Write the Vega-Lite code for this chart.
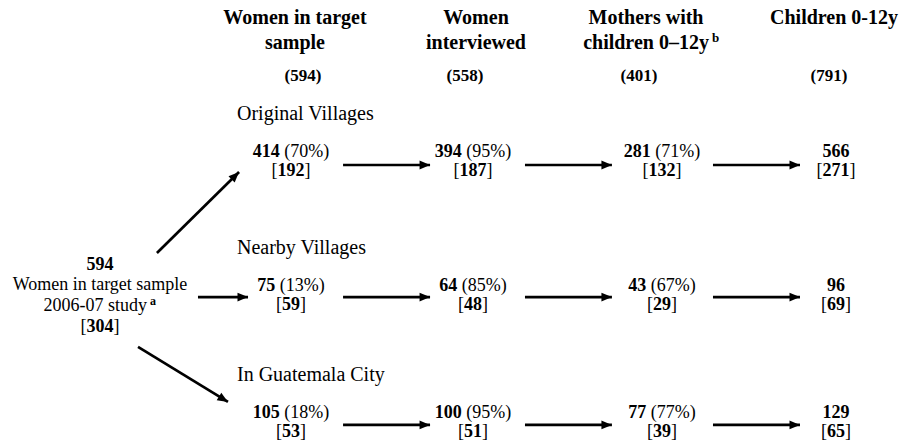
{
  "$schema": "https://vega.github.io/schema/vega-lite/v6.json",
  "width": 904,
  "height": 443,
  "autosize": {"type": "fit", "contains": "padding"},
  "padding": 0,
  "background": "white",
  "config": {
    "view": {"stroke": null},
    "axis": {"disable": true},
    "text": {"font": "Liberation Serif", "color": "black", "baseline": "middle"}
  },
  "datasets": {
    "nodes": [
      {"col": 1, "row": 1, "n": 414, "pct": 70, "sub": 192},
      {"col": 2, "row": 1, "n": 394, "pct": 95, "sub": 187},
      {"col": 3, "row": 1, "n": 281, "pct": 71, "sub": 132},
      {"col": 4, "row": 1, "n": 566, "pct": null, "sub": 271},
      {"col": 1, "row": 2, "n": 75, "pct": 13, "sub": 59},
      {"col": 2, "row": 2, "n": 64, "pct": 85, "sub": 48},
      {"col": 3, "row": 2, "n": 43, "pct": 67, "sub": 29},
      {"col": 4, "row": 2, "n": 96, "pct": null, "sub": 69},
      {"col": 1, "row": 3, "n": 105, "pct": 18, "sub": 53},
      {"col": 2, "row": 3, "n": 100, "pct": 95, "sub": 51},
      {"col": 3, "row": 3, "n": 77, "pct": 77, "sub": 39},
      {"col": 4, "row": 3, "n": 129, "pct": null, "sub": 65}
    ],
    "origin": [
      {"col": 0, "row": 2, "n": 594, "sub": 304, "desc": "Women in target sample", "study": "2006-07 study", "note": "a"}
    ],
    "groups": [
      {"col": 1, "row": 1, "label": "Original Villages"},
      {"col": 1, "row": 2, "label": "Nearby Villages"},
      {"col": 1, "row": 3, "label": "In Guatemala City"}
    ],
    "arrows": [
      {"kind": "up", "x1": 0.298, "y1": 1.754, "x2": 0.728, "y2": 1.149},
      {"kind": "h", "x1": 0.513, "y1": 2.087, "x2": 0.775, "y2": 2.087},
      {"kind": "down", "x1": 0.199, "y1": 2.48, "x2": 0.67, "y2": 2.913},
      {"kind": "h", "x1": 1.286, "y1": 1.097, "x2": 1.764, "y2": 1.097},
      {"kind": "h", "x1": 2.275, "y1": 1.097, "x2": 2.735, "y2": 1.097},
      {"kind": "h", "x1": 3.293, "y1": 1.097, "x2": 3.793, "y2": 1.097},
      {"kind": "h", "x1": 1.286, "y1": 2.087, "x2": 1.764, "y2": 2.087},
      {"kind": "h", "x1": 2.275, "y1": 2.087, "x2": 2.735, "y2": 2.087},
      {"kind": "h", "x1": 3.293, "y1": 2.087, "x2": 3.793, "y2": 2.087},
      {"kind": "h", "x1": 1.286, "y1": 3.094, "x2": 1.764, "y2": 3.094},
      {"kind": "h", "x1": 2.275, "y1": 3.094, "x2": 2.735, "y2": 3.094},
      {"kind": "h", "x1": 3.293, "y1": 3.094, "x2": 3.793, "y2": 3.094}
    ],
    "headers": [
      {"col": 1, "row": 0, "line1": "Women in target", "line2": "sample", "total": 594},
      {"col": 2, "row": 0, "line1": "Women", "line2": "interviewed", "total": 558},
      {"col": 3, "row": 0, "line1": "Mothers with", "line2": "children 0–12y", "total": 401},
      {"col": 4, "row": 0, "line1": "Children 0-12y", "line2": "", "total": 791}
    ],
    "notes": [
      {"col": 3, "row": 0, "note": "b"}
    ]
  },
  "resolve": {"scale": {"x": "independent"}},
  "layer": [
    {
      "layer": [
        {
          "data": {"name": "groups"},
          "mark": {"type": "text", "align": "left", "dx": -54, "dy": -38, "fontSize": 20},
          "encoding": {
            "x": {"field": "col", "type": "quantitative", "scale": {"type": "linear", "domain": [0, 1, 2, 3, 4], "range": [100, 291, 473, 662, 836], "nice": false, "zero": false}},
            "y": {"field": "row", "type": "quantitative", "scale": {"type": "linear", "domain": [0, 1, 2, 3], "range": [18, 152, 286, 413], "nice": false, "zero": false}},
            "text": {"field": "label", "type": "nominal"}
          }
        },
        {
          "data": {"name": "arrows"},
          "mark": {"type": "rule", "color": "black", "strokeWidth": 2.7},
          "encoding": {
            "x": {"field": "x1", "type": "quantitative", "scale": {"type": "linear", "domain": [0, 1, 2, 3, 4], "range": [100, 291, 473, 662, 836], "nice": false, "zero": false}},
            "x2": {"field": "x2"},
            "y": {"field": "y1", "type": "quantitative", "scale": {"type": "linear", "domain": [0, 1, 2, 3], "range": [18, 152, 286, 413], "nice": false, "zero": false}},
            "y2": {"field": "y2"}
          }
        },
        {
          "data": {"name": "arrows"},
          "transform": [{"filter": "datum.kind == 'h'"}],
          "mark": {"type": "point", "shape": "M0,0L-1,-0.42L-1,0.42Z", "size": 441, "filled": true, "color": "black", "opacity": 1, "strokeWidth": 0, "angle": 0},
          "encoding": {
            "x": {"field": "x2", "type": "quantitative", "scale": {"type": "linear", "domain": [0, 1, 2, 3, 4], "range": [100, 291, 473, 662, 836], "nice": false, "zero": false}},
            "y": {"field": "y2", "type": "quantitative", "scale": {"type": "linear", "domain": [0, 1, 2, 3], "range": [18, 152, 286, 413], "nice": false, "zero": false}}
          }
        },
        {
          "data": {"name": "arrows"},
          "transform": [{"filter": "datum.kind == 'up'"}],
          "mark": {"type": "point", "shape": "M0,0L-1,-0.42L-1,0.42Z", "size": 441, "filled": true, "color": "black", "opacity": 1, "strokeWidth": 0, "angle": -44.6},
          "encoding": {
            "x": {"field": "x2", "type": "quantitative", "scale": {"type": "linear", "domain": [0, 1, 2, 3, 4], "range": [100, 291, 473, 662, 836], "nice": false, "zero": false}},
            "y": {"field": "y2", "type": "quantitative", "scale": {"type": "linear", "domain": [0, 1, 2, 3], "range": [18, 152, 286, 413], "nice": false, "zero": false}}
          }
        },
        {
          "data": {"name": "arrows"},
          "transform": [{"filter": "datum.kind == 'down'"}],
          "mark": {"type": "point", "shape": "M0,0L-1,-0.42L-1,0.42Z", "size": 441, "filled": true, "color": "black", "opacity": 1, "strokeWidth": 0, "angle": 31.4},
          "encoding": {
            "x": {"field": "x2", "type": "quantitative", "scale": {"type": "linear", "domain": [0, 1, 2, 3, 4], "range": [100, 291, 473, 662, 836], "nice": false, "zero": false}},
            "y": {"field": "y2", "type": "quantitative", "scale": {"type": "linear", "domain": [0, 1, 2, 3], "range": [18, 152, 286, 413], "nice": false, "zero": false}}
          }
        },
        {
          "data": {"name": "nodes"},
          "transform": [
            {"calculate": "toString(datum.n)", "as": "nstr"},
            {"calculate": "datum.pct == null ? datum.nstr : pad(datum.nstr, length(datum.nstr) + 11, '\u00a0') + '\u200b'", "as": "b1"},
            {"calculate": "datum.pct == null ? '' : '\u200b' + pad('', 2 * length(datum.nstr), '\u00a0') + '\u00a0(' + datum.pct + '%)'", "as": "r1"},
            {"calculate": "toString(datum.sub)", "as": "b2"},
            {"calculate": "'[' + pad('', 2 * length(datum.b2), '\u00a0') + ']'", "as": "r2"}
          ],
          "encoding": {
            "x": {"field": "col", "type": "quantitative", "scale": {"type": "linear", "domain": [0, 1, 2, 3, 4], "range": [100, 291, 473, 662, 836], "nice": false, "zero": false}},
            "y": {"field": "row", "type": "quantitative", "scale": {"type": "linear", "domain": [0, 1, 2, 3], "range": [18, 152, 286, 413], "nice": false, "zero": false}}
          },
          "layer": [
            {"mark": {"type": "text", "fontSize": 18, "fontWeight": "bold"}, "encoding": {"text": {"field": "b1", "type": "nominal"}}},
            {"mark": {"type": "text", "fontSize": 18}, "encoding": {"text": {"field": "r1", "type": "nominal"}}},
            {"mark": {"type": "text", "fontSize": 18, "fontWeight": "bold", "dy": 19}, "encoding": {"text": {"field": "b2", "type": "nominal"}}},
            {"mark": {"type": "text", "fontSize": 18, "dy": 19}, "encoding": {"text": {"field": "r2", "type": "nominal"}}}
          ]
        },
        {
          "data": {"name": "origin"},
          "transform": [
            {"calculate": "toString(datum.sub)", "as": "b2"},
            {"calculate": "'[' + pad('', 2 * length(datum.b2), '\u00a0') + ']'", "as": "r2"}
          ],
          "encoding": {
            "x": {"field": "col", "type": "quantitative", "scale": {"type": "linear", "domain": [0, 1, 2, 3, 4], "range": [100, 291, 473, 662, 836], "nice": false, "zero": false}},
            "y": {"field": "row", "type": "quantitative", "scale": {"type": "linear", "domain": [0, 1, 2, 3], "range": [18, 152, 286, 413], "nice": false, "zero": false}}
          },
          "layer": [
            {"mark": {"type": "text", "fontSize": 18, "fontWeight": "bold", "dy": -21}, "encoding": {"text": {"field": "n", "type": "nominal"}}},
            {"mark": {"type": "text", "fontSize": 18, "dy": -1}, "encoding": {"text": {"field": "desc", "type": "nominal"}}},
            {"mark": {"type": "text", "fontSize": 18, "align": "right", "dx": 47, "dy": 20}, "encoding": {"text": {"field": "study", "type": "nominal"}}},
            {"mark": {"type": "text", "fontSize": 12, "fontWeight": "bold", "align": "left", "dx": 50, "dy": 15}, "encoding": {"text": {"field": "note", "type": "nominal"}}},
            {"mark": {"type": "text", "fontSize": 18, "fontWeight": "bold", "dy": 41}, "encoding": {"text": {"field": "b2", "type": "nominal"}}},
            {"mark": {"type": "text", "fontSize": 18, "dy": 41}, "encoding": {"text": {"field": "r2", "type": "nominal"}}}
          ]
        }
      ]
    },
    {
      "layer": [
        {
          "data": {"name": "headers"},
          "mark": {"type": "text", "fontSize": 20, "fontWeight": "bold"},
          "encoding": {
            "x": {"field": "col", "type": "quantitative", "scale": {"type": "linear", "domain": [1, 2, 3, 4], "range": [295, 476, 646, 834], "nice": false, "zero": false}},
            "y": {"field": "row", "type": "quantitative", "scale": {"type": "linear", "domain": [0, 1, 2, 3], "range": [18, 152, 286, 413], "nice": false, "zero": false}},
            "text": {"field": "line1", "type": "nominal"}
          }
        },
        {
          "data": {"name": "headers"},
          "mark": {"type": "text", "fontSize": 20, "fontWeight": "bold", "dy": 25},
          "encoding": {
            "x": {"field": "col", "type": "quantitative", "scale": {"type": "linear", "domain": [1, 2, 3, 4], "range": [295, 476, 646, 834], "nice": false, "zero": false}},
            "y": {"field": "row", "type": "quantitative", "scale": {"type": "linear", "domain": [0, 1, 2, 3], "range": [18, 152, 286, 413], "nice": false, "zero": false}},
            "text": {"field": "line2", "type": "nominal"}
          }
        },
        {
          "data": {"name": "notes"},
          "mark": {"type": "text", "fontSize": 13, "fontWeight": "bold", "align": "left", "dx": 66, "dy": 20},
          "encoding": {
            "x": {"field": "col", "type": "quantitative", "scale": {"type": "linear", "domain": [1, 2, 3, 4], "range": [295, 476, 646, 834], "nice": false, "zero": false}},
            "y": {"field": "row", "type": "quantitative", "scale": {"type": "linear", "domain": [0, 1, 2, 3], "range": [18, 152, 286, 413], "nice": false, "zero": false}},
            "text": {"field": "note", "type": "nominal"}
          }
        }
      ]
    },
    {
      "layer": [
        {
          "data": {"name": "headers"},
          "transform": [{"calculate": "'(' + datum.total + ')'", "as": "tot"}],
          "mark": {"type": "text", "fontSize": 17, "fontWeight": "bold", "dy": 58},
          "encoding": {
            "x": {"field": "col", "type": "quantitative", "scale": {"type": "linear", "domain": [1, 2, 3, 4], "range": [303, 465, 639, 829], "nice": false, "zero": false}},
            "y": {"field": "row", "type": "quantitative", "scale": {"type": "linear", "domain": [0, 1, 2, 3], "range": [18, 152, 286, 413], "nice": false, "zero": false}},
            "text": {"field": "tot", "type": "nominal"}
          }
        }
      ]
    }
  ]
}
